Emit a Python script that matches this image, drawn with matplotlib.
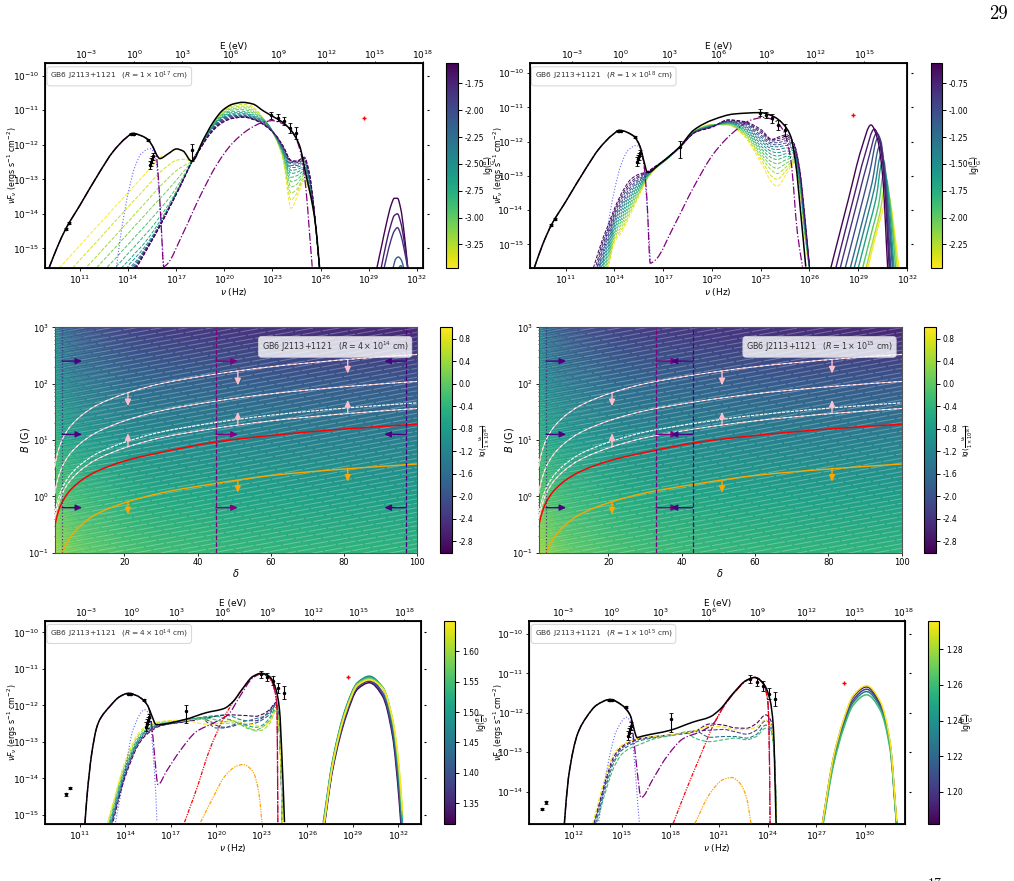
import matplotlib
matplotlib.use("Agg")
import matplotlib.pyplot as plt
import numpy as np
from matplotlib.cm import ScalarMappable
from matplotlib.collections import LineCollection
from matplotlib.colors import Normalize
from matplotlib.patches import PathPatch
from matplotlib.path import Path
from matplotlib.ticker import NullLocator

W, H = 1014, 881
HZ_PER_EV = 2.418e14

# observed SED, log10 values
nu_obs = [10.11, 10.33, 14.2, 14.3, 14.4, 15.24, 15.36, 15.42, 15.48, 15.55, 18.01, 22.93, 23.34, 23.7, 24.09, 24.48]
flux_obs = [-14.44, -14.27, -11.68, -11.68, -11.68, -11.85, -12.58, -12.5, -12.42, -12.33, -12.16, -11.15, -11.22, -11.32, -11.52, -11.65]
err_lo = [.03, .03, .02, .02, .02, .03, .12, .12, .1, .1, .32, .1, .1, .12, .14, .17]
err_hi = [.03, .03, .02, .02, .02, .03, .12, .12, .1, .1, .17, .1, .1, .12, .14, .17]
nu_icecube = [28.7]
flux_icecube = [-11.23]

# accretion disk, shared by the upper panels
disk_x = [13.28, 13.59, 14.0, 14.42, 14.84, 15.36, 15.6, 15.77, 15.93, 16.08, 16.22]
disk_y = [-15.53, -14.47, -13.41, -12.65, -12.25, -12.11, -12.21, -12.54, -13.41, -14.47, -15.53]

# panel: R = 1e17 cm
p1_total_x = [9.07, 9.6, 10.11, 11, 12.24, 13.06, 13.9, 14.3, 14.84, 15.24, 15.56, 15.77, 15.98, 16.5, 17.02, 17.43, 17.95, 18.0, 18.67, 19.3, 19.92, 20.54, 21.16, 21.79, 22.41, 23.03, 23.65, 24.17, 24.69, 25.1, 25.52, 25.73, 25.94]
p1_total_y = [-15.57, -14.95, -14.44, -13.75, -12.78, -12.2, -11.79, -11.67, -11.74, -11.85, -12.07, -12.28, -12.4, -12.26, -12.12, -12.18, -12.47, -12.47, -11.87, -11.35, -10.99, -10.82, -10.77, -10.82, -11.01, -11.18, -11.35, -11.59, -12.02, -12.88, -13.8, -14.47, -15.55]
p1_ext_x = [9.07, 9.6, 10.11, 11, 12.24, 13.06, 13.9, 14.3, 14.84, 15.24, 15.56, 15.77, 15.93, 16.08, 16.22, 16.39, 17.43, 18.47, 19.5, 20.5, 21.6, 22.4, 23, 23.6, 24.26, 24.8, 25.1, 25.3, 25.48]
p1_ext_y = [-15.57, -14.95, -14.44, -13.75, -12.78, -12.2, -11.79, -11.67, -11.74, -11.85, -12.07, -12.36, -13.22, -14.47, -15.53, -15.48, -14.56, -13.51, -12.6, -11.96, -11.53, -11.35, -11.3, -11.38, -11.63, -12.3, -13.32, -14.47, -15.53]
p1_lgB = [-3.47, -3.33, -3.20, -3.06, -2.93, -2.79, -2.65, -2.52, -2.38, -2.24, -2.11, -1.97, -1.83, -1.70, -1.56]
p1_low_x = [9.7, 10.5, 11.4, 12, 12.7, 13.2, 13.6, 14, 14.5, 15, 15.5, 16, 16.5, 17, 17.5, 18]
# one row per frequency, one column per curve
p1_low_y = [
    [-15.57, -16, -16, -16, -16, -16, -16, -16, -16, -16, -16, -16, -16, -16, -16],
    [-15.17, -15.59, -16, -16, -16, -16, -16, -16, -16, -16, -16, -16, -16, -16, -16],
    [-14.71, -15.13, -15.55, -16, -16, -16, -16, -16, -16, -16, -16, -16, -16, -16, -16],
    [-14.40, -14.83, -15.25, -15.59, -16, -16, -16, -16, -16, -16, -16, -16, -16, -16, -16],
    [-14.05, -14.47, -14.89, -15.23, -15.55, -16, -16, -16, -16, -16, -16, -16, -16, -16, -16],
    [-13.79, -14.21, -14.64, -14.98, -15.30, -15.56, -16, -16, -16, -16, -16, -16, -16, -16, -16],
    [-13.59, -14.01, -14.43, -14.77, -15.09, -15.36, -15.57, -16, -16, -16, -16, -16, -16, -16, -16],
    [-13.39, -13.80, -14.23, -14.57, -14.89, -15.15, -15.37, -15.52, -15.62, -15.67, -15.72, -15.75, -15.78, -15.80, -15.83],
    [-13.13, -13.55, -13.97, -14.31, -14.63, -14.90, -15.11, -15.25, -15.37, -15.42, -15.47, -15.50, -15.52, -15.55, -15.57],
    [-12.88, -13.30, -13.72, -14.06, -14.38, -14.64, -14.86, -14.98, -15.05, -15.08, -15.10, -15.12, -15.14, -15.16, -15.18],
    [-12.62, -13.04, -13.46, -13.80, -14.12, -14.38, -14.55, -14.65, -14.70, -14.72, -14.73, -14.74, -14.75, -14.76, -14.77],
    [-12.36, -12.79, -13.20, -13.55, -13.85, -14.07, -14.20, -14.27, -14.29, -14.30, -14.31, -14.32, -14.33, -14.34, -14.35],
    [-12.27, -12.60, -12.97, -13.30, -13.58, -13.75, -13.82, -13.85, -13.86, -13.87, -13.88, -13.88, -13.89, -13.89, -13.90],
    [-12.13, -12.45, -12.75, -13.03, -13.25, -13.35, -13.40, -13.41, -13.42, -13.42, -13.43, -13.43, -13.43, -13.44, -13.44],
    [-12.20, -12.42, -12.60, -12.75, -12.87, -12.93, -12.95, -12.95, -12.95, -12.95, -12.96, -12.96, -12.96, -12.96, -12.96],
    [-12.47, -12.47, -12.47, -12.47, -12.47, -12.47, -12.47, -12.47, -12.47, -12.47, -12.47, -12.47, -12.47, -12.47, -12.47],
]
p1_high_x = [18.5, 19, 19.5, 20, 20.5, 21.2, 22, 22.6, 23.2, 23.65, 24.17, 24.5, 25.0, 25.3, 25.6, 25.94]
# one row per curve
p1_high_y = [
    [-12.02, -11.60, -11.22, -10.97, -10.83, -10.78, -10.98, -11.38, -11.82, -12.40, -13.84, -13.55, -13.05, -13.35, -14.05, -15.60],
    [-12.03, -11.61, -11.24, -11.00, -10.87, -10.83, -11.01, -11.36, -11.81, -12.36, -13.60, -13.42, -13.00, -13.31, -14.03, -15.60],
    [-12.04, -11.62, -11.26, -11.03, -10.91, -10.88, -11.05, -11.34, -11.80, -12.32, -13.40, -13.30, -12.95, -13.27, -14.02, -15.60],
    [-12.05, -11.63, -11.28, -11.06, -10.95, -10.93, -11.09, -11.33, -11.79, -12.28, -13.22, -13.15, -12.88, -13.23, -14.00, -15.60],
    [-12.06, -11.64, -11.30, -11.09, -10.99, -10.98, -11.13, -11.33, -11.78, -12.25, -13.07, -13.02, -12.82, -13.19, -13.98, -15.60],
    [-12.07, -11.66, -11.32, -11.12, -11.03, -11.03, -11.17, -11.34, -11.77, -12.22, -12.94, -12.90, -12.76, -13.15, -13.96, -15.60],
    [-12.08, -11.67, -11.34, -11.15, -11.07, -11.07, -11.20, -11.35, -11.76, -12.19, -12.83, -12.80, -12.70, -13.11, -13.95, -15.60],
    [-12.08, -11.68, -11.36, -11.18, -11.10, -11.10, -11.22, -11.37, -11.75, -12.16, -12.74, -12.72, -12.64, -13.07, -13.93, -15.60],
    [-12.09, -11.69, -11.38, -11.20, -11.13, -11.13, -11.24, -11.39, -11.74, -12.14, -12.66, -12.65, -12.58, -13.03, -13.92, -15.60],
    [-12.09, -11.70, -11.40, -11.22, -11.15, -11.15, -11.26, -11.41, -11.73, -12.11, -12.60, -12.60, -12.53, -12.99, -13.90, -15.60],
    [-12.10, -11.71, -11.42, -11.24, -11.17, -11.17, -11.27, -11.43, -11.73, -12.09, -12.55, -12.56, -12.49, -12.95, -13.89, -15.60],
    [-12.10, -11.72, -11.44, -11.26, -11.19, -11.18, -11.28, -11.44, -11.72, -12.07, -12.51, -12.52, -12.45, -12.91, -13.88, -15.60],
    [-12.11, -11.74, -11.46, -11.29, -11.21, -11.19, -11.29, -11.45, -11.72, -12.05, -12.48, -12.50, -12.42, -12.87, -13.87, -15.60],
    [-12.11, -11.75, -11.48, -11.31, -11.23, -11.20, -11.30, -11.46, -11.72, -12.03, -12.46, -12.48, -12.39, -12.83, -13.86, -15.60],
    [-12.12, -11.76, -11.50, -11.33, -11.24, -11.20, -11.30, -11.47, -11.72, -12.02, -12.45, -12.47, -12.36, -12.80, -13.85, -15.60],
]
p1_gamma_lgB = [-1.56, -1.70, -1.83, -2.11, -2.38]
p1_gamma_x = [
    [29.5, 29.8, 30.1, 30.4, 30.6, 30.8, 31.0, 31.2, 31.45],
    [29.77, 30.1, 30.4, 30.6, 30.8, 31.0, 31.2, 31.45],
    [29.95, 30.1, 30.4, 30.6, 30.8, 31.0, 31.2, 31.45],
    [30.5, 30.7, 30.85, 31.05, 31.2],
    [30.85, 31.0, 31.15],
]
p1_gamma_y = [
    [-15.6, -14.95, -14.3, -13.75, -13.55, -13.55, -13.85, -14.5, -15.6],
    [-15.6, -14.85, -14.3, -14.05, -14.0, -14.25, -14.75, -15.6],
    [-15.6, -15.3, -14.75, -14.5, -14.4, -14.6, -15.0, -15.6],
    [-15.6, -15.3, -15.25, -15.35, -15.6],
    [-15.6, -15.5, -15.6],
]

# panel: R = 1e18 cm
p2_total_x = [9.06, 9.6, 10.11, 11, 12.24, 13.06, 13.9, 14.3, 15.17, 15.58, 15.79, 16.04, 16.82, 18.01, 18.88, 20.11, 21.35, 22.99, 23.81, 24.43, 24.85, 25.15, 25.46, 25.77]
p2_total_y = [-15.69, -14.98, -14.44, -13.75, -12.78, -12.2, -11.79, -11.67, -11.83, -12.15, -12.53, -12.9, -12.63, -12.15, -11.66, -11.35, -11.19, -11.15, -11.27, -11.51, -11.85, -12.63, -14.09, -15.65]
p2_ext_x = [9.06, 9.6, 10.11, 11, 12.24, 13.06, 13.9, 14.3, 15.17, 15.58, 15.83, 16, 16.2, 16.51, 17.64, 18.88, 20.11, 21.35, 22.38, 23.2, 23.81, 24.43, 24.85, 25.26, 25.57]
p2_ext_y = [-15.69, -14.98, -14.44, -13.75, -12.78, -12.2, -11.79, -11.67, -11.83, -12.15, -12.73, -13.7, -15.55, -15.46, -14.48, -13.32, -12.34, -11.71, -11.37, -11.29, -11.37, -11.71, -12.53, -14.68, -15.65]
p2_lgB = [-2.47, -2.33, -2.2, -2.06, -1.93, -1.79, -1.65, -1.52, -1.38, -1.24, -1.11, -.97, -.83, -.7, -.56]
p2_fan_x = [12.7, 13.3, 13.6, 14, 14.5, 15, 15.5, 16, 16.5, 17, 18, 19, 20, 21, 22, 23, 23.7, 24, 24.6, 25.05, 25.4, 25.7, 26.05]
# one row per frequency, one column per curve
p2_fan_y = [
    [-17.5, -17.3, -17.2, -17.1, -17, -16.9, -16.8, -16.7, -16.6, -16.5, -16.4, -16.2, -16.1, -15.9, -15.69],
    [-16.2, -16.1, -16.0, -15.9, -15.8, -15.7, -15.6, -15.5, -15.4, -15.3, -15.2, -15.1, -15.0, -14.9, -14.8],
    [-15.7, -15.62, -15.53, -15.44, -15.35, -15.26, -15.17, -15.08, -15, -14.91, -14.82, -14.73, -14.64, -14.55, -14.45],
    [-14.95, -14.88, -14.81, -14.74, -14.67, -14.6, -14.53, -14.46, -14.39, -14.32, -14.25, -14.18, -14.11, -14.03, -13.95],
    [-14.6, -14.52, -14.44, -14.35, -14.27, -14.19, -14.11, -14.03, -13.94, -13.86, -13.78, -13.7, -13.61, -13.53, -13.45],
    [-14.1, -14.03, -13.96, -13.89, -13.82, -13.75, -13.67, -13.6, -13.53, -13.46, -13.39, -13.32, -13.25, -13.18, -13.1],
    [-13.6, -13.55, -13.51, -13.46, -13.41, -13.37, -13.32, -13.28, -13.23, -13.18, -13.14, -13.09, -13.04, -13, -12.95],
    [-13.1, -13.08, -13.07, -13.05, -13.04, -13.02, -13, -12.99, -12.97, -12.96, -12.94, -12.93, -12.91, -12.89, -12.88],
    [-12.8, -12.79, -12.79, -12.78, -12.78, -12.77, -12.77, -12.76, -12.76, -12.75, -12.75, -12.74, -12.74, -12.73, -12.72],
    [-12.6, -12.6, -12.6, -12.6, -12.59, -12.59, -12.59, -12.59, -12.58, -12.58, -12.58, -12.58, -12.57, -12.57, -12.57],
    [-12.18, -12.18, -12.18, -12.18, -12.17, -12.17, -12.17, -12.17, -12.17, -12.17, -12.16, -12.16, -12.16, -12.16, -12.16],
    [-11.66, -11.66, -11.67, -11.67, -11.68, -11.68, -11.69, -11.69, -11.7, -11.7, -11.7, -11.71, -11.71, -11.72, -11.72],
    [-11.5, -11.5, -11.51, -11.51, -11.52, -11.52, -11.53, -11.54, -11.54, -11.55, -11.55, -11.56, -11.56, -11.57, -11.58],
    [-11.52, -11.51, -11.5, -11.49, -11.47, -11.46, -11.45, -11.44, -11.43, -11.42, -11.41, -11.4, -11.39, -11.37, -11.36],
    [-11.85, -11.82, -11.78, -11.75, -11.71, -11.68, -11.64, -11.61, -11.57, -11.54, -11.5, -11.47, -11.45, -11.43, -11.41],
    [-12.6, -12.5, -12.42, -12.34, -12.26, -12.19, -12.12, -12.05, -11.98, -11.92, -11.86, -11.8, -11.74, -11.69, -11.64],
    [-13.2, -13.02, -12.85, -12.72, -12.6, -12.48, -12.38, -12.29, -12.21, -12.14, -12.08, -12.03, -11.98, -11.95, -11.93],
    [-13.3, -13.1, -12.93, -12.78, -12.64, -12.52, -12.42, -12.32, -12.23, -12.15, -12.09, -12.03, -11.97, -11.92, -11.88],
    [-12.92, -12.82, -12.72, -12.62, -12.52, -12.43, -12.35, -12.27, -12.18, -12.11, -12.04, -11.97, -11.91, -11.85, -11.8],
    [-12.63, -12.6, -12.56, -12.52, -12.47, -12.43, -12.39, -12.35, -12.3, -12.26, -12.22, -12.18, -12.14, -12.09, -12.05],
    [-13.4, -13.36, -13.31, -13.27, -13.22, -13.17, -13.13, -13.08, -13.04, -13, -12.96, -12.92, -12.88, -12.84, -12.8],
    [-14.75, -14.7, -14.66, -14.61, -14.56, -14.52, -14.47, -14.43, -14.38, -14.34, -14.29, -14.24, -14.2, -14.15, -14.1],
    [-15.9, -15.9, -15.9, -15.9, -15.9, -15.9, -15.9, -15.9, -15.9, -15.9, -15.9, -15.9, -15.9, -15.9, -15.9],
]
p2_gamma_lgB = [-2.47, -2.25, -1.95, -1.65, -1.4, -1.2, -1.0, -.85, -.7, -.56]
p2_gamma_x = [
    [29.59, 30.1, 30.45, 30.81, 31, 31.25, 31.5],
    [29.48, 30, 30.35, 30.65, 30.85, 31.1, 31.4],
    [29.27, 29.9, 30.25, 30.57, 30.75, 31, 31.3],
    [29.0, 29.7, 30.1, 30.46, 30.65, 30.9, 31.2],
    [28.75, 29.6, 30, 30.4, 30.6, 30.8, 31.15],
    [28.51, 29.4, 29.85, 30.3, 30.5, 30.75, 31.1],
    [28.2, 29.2, 29.7, 30.2, 30.45, 30.7, 31.0],
    [27.89, 29, 29.6, 30.14, 30.4, 30.65, 30.95],
    [27.62, 28.7, 29.4, 29.99, 30.3, 30.6, 30.9],
    [27.31, 28.4, 29.2, 29.78, 30.2, 30.5, 30.81],
]
p2_gamma_y = [
    [-15.69, -14.7, -14.1, -13.56, -13.85, -14.7, -15.69],
    [-15.69, -14.7, -14.05, -13.29, -13.45, -14.3, -15.69],
    [-15.69, -14.5, -13.85, -12.92, -13.1, -14, -15.69],
    [-15.69, -14.4, -13.65, -12.63, -12.85, -13.8, -15.69],
    [-15.69, -14.12, -13.35, -12.39, -12.6, -13.6, -15.69],
    [-15.69, -14.05, -13.2, -12.15, -12.45, -13.5, -15.69],
    [-15.69, -13.84, -12.9, -11.9, -12.2, -13.35, -15.69],
    [-15.69, -13.64, -12.55, -11.75, -12.0, -13.2, -15.69],
    [-15.69, -13.67, -12.4, -11.63, -11.95, -13.1, -15.69],
    [-15.69, -13.67, -12.2, -11.51, -11.95, -13.0, -15.69],
]

# delta-B plane, shared by the two middle panels
delta_grid = [1, 2, 3, 6, 10, 20, 30, 50, 70, 100]
lg_b_grid = [-1, 0, 1, 2, 3]
lg_nu_field = [
    [.45, .35, .25, .1, -.02, -.15, -.25, -.33, -.38, -.42],
    [.05, -.05, -.12, -.25, -.35, -.5, -.58, -.66, -.72, -.78],
    [-.35, -.5, -.6, -.75, -.85, -1.0, -1.08, -1.15, -1.22, -1.28],
    [-.75, -1.0, -1.12, -1.3, -1.42, -1.58, -1.68, -1.78, -1.86, -1.92],
    [-1.1, -1.45, -1.6, -1.85, -2.0, -2.2, -2.3, -2.42, -2.5, -2.58],
]
delta_curve = [1, 1.5, 2, 3, 5, 8, 12, 21, 30, 45, 60, 81, 100]
lim_a = [.52, .70, .82, 1.0, 1.22, 1.42, 1.60, 1.84, 2.0, 2.17, 2.30, 2.43, 2.52]
lim_b = [.04, .22, .34, .52, .74, .94, 1.12, 1.36, 1.52, 1.69, 1.82, 1.95, 2.04]
lim_c = [-.34, -.16, -.04, .14, .36, .56, .74, .98, 1.14, 1.31, 1.44, 1.57, 1.66]
lim_d = [-.44, -.26, -.14, .04, .26, .46, .64, .88, 1.04, 1.21, 1.34, 1.47, 1.56]
lim_red = [-.54, -.38, -.27, -.11, .09, .27, .43, .645, .78, .965, 1.08, 1.2, 1.28]
delta_orange = [3, 5, 8, 12, 21, 30, 45, 60, 81, 100]
lim_orange = [-1.0, -.75, -.52, -.33, -.095, .06, .23, .37, .49, .574]
b_arrow_levels = [251, 12.6, 0.63]
pink_down = [(21, 1.84, 1.60), (51, 2.23, 1.97), (81, 2.42, 2.18)]
pink_up = [(21, .88, 1.12), (51, 1.27, 1.50), (81, 1.47, 1.71)]
orange_down = [(21, -.095, -.32), (51, .29, .065), (81, .50, .26)]

# panel: R = 4e14 cm
p5_total_x = [11.33, 11.48, 11.77, 12.1, 12.3, 12.97, 13.63, 14.18, 14.73, 15.17, 15.5, 15.72, 16.04, 17.9, 19.33, 20.54, 21.09, 21.75, 22.4, 22.95, 23.5, 23.94, 24.16, 24.33, 24.49]
p5_total_y = [-15.25, -14.44, -13.35, -12.62, -12.4, -12.03, -11.76, -11.67, -11.73, -11.85, -12.03, -12.26, -12.53, -12.39, -12.2, -12.08, -11.9, -11.53, -11.21, -11.12, -11.21, -11.58, -12.12, -13.49, -15.2]
p5_ext_x = [11.33, 11.48, 11.77, 12.1, 12.3, 12.97, 13.63, 14.18, 14.73, 15.17, 15.5, 15.72, 15.93, 16.15, 16.7, 17.58, 18.68, 19.77, 20.76, 21.54, 22.4, 22.95, 23.5, 23.83, 24.0, 24.05]
p5_ext_y = [-15.25, -14.44, -13.35, -12.62, -12.4, -12.03, -11.76, -11.67, -11.73, -11.85, -12.03, -12.48, -13.4, -14.17, -13.81, -13.26, -12.72, -12.49, -12.26, -11.76, -11.25, -11.14, -11.25, -11.57, -12.12, -15.2]
p5_red_x = [17.9, 18.68, 19.55, 20.43, 21.07, 21.75, 22.4, 22.95, 23.5, 23.83, 24.0, 24.05]
p5_red_y = [-15.2, -14.31, -13.22, -12.39, -11.93, -11.53, -11.21, -11.14, -11.25, -11.57, -12.12, -15.2]
p5_orange_x = [18.96, 19.77, 20.54, 21.3, 21.75, 22.4, 22.8, 23]
p5_orange_y = [-15.2, -14.53, -13.95, -13.67, -13.62, -13.81, -14.39, -15.2]
p5_disk_x = [13.35, 13.96, 14.5, 15.28, 15.6, 15.82, 16.0, 16.08]
p5_disk_y = [-15.2, -13.85, -12.67, -12.12, -12.3, -13.3, -14.4, -15.2]
p5_lgB = [1.32, 1.37, 1.41, 1.46, 1.51, 1.55, 1.60, 1.65]
p5_fan_x = [12.8, 13.3, 13.8, 14.3, 14.8, 15.2, 15.7, 16.2, 17, 18, 19, 19.5, 20, 20.5, 21, 21.5, 22, 22.6, 23, 23.5, 23.95, 24.2, 24.35]
p5_fan_y = [
    [-15.8, -15, -14.2, -13.6, -13.12, -12.88, -12.7, -12.58, -12.5, -12.45, -12.37, -12.33, -12.3, -12.27, -12.26, -12.27, -12.28, -12.3, -12.25, -12.12, -11.92, -13, -15.25],
    [-15.7, -14.92, -14.15, -13.55, -13.08, -12.85, -12.67, -12.56, -12.5, -12.44, -12.36, -12.42, -12.55, -12.6, -12.58, -12.5, -12.42, -12.42, -12.35, -12.15, -11.95, -13, -15.25],
    [-15.65, -14.87, -14.1, -13.5, -13.04, -12.82, -12.65, -12.55, -12.48, -12.42, -12.34, -12.5, -12.62, -12.62, -12.55, -12.5, -12.52, -12.48, -12.4, -12.25, -11.98, -13, -15.25],
    [-15.55, -14.8, -14.03, -13.45, -13, -12.78, -12.62, -12.53, -12.47, -12.4, -12.33, -12.3, -12.28, -12.26, -12.3, -12.38, -12.42, -12.36, -12.32, -12.2, -11.98, -13, -15.25],
    [-15.5, -14.72, -13.97, -13.4, -12.97, -12.75, -12.6, -12.52, -12.46, -12.4, -12.35, -12.32, -12.3, -12.36, -12.4, -12.5, -12.55, -12.6, -12.55, -12.35, -12.05, -13, -15.25],
    [-15.4, -14.65, -13.9, -13.35, -12.92, -12.72, -12.58, -12.5, -12.45, -12.4, -12.36, -12.36, -12.4, -12.45, -12.42, -12.5, -12.62, -12.68, -12.6, -12.42, -12.1, -13, -15.25],
    [-15.3, -14.55, -13.82, -13.27, -12.86, -12.67, -12.54, -12.47, -12.42, -12.4, -12.38, -12.42, -12.5, -12.5, -12.48, -12.52, -12.58, -12.7, -12.68, -12.5, -12.15, -13, -15.25],
    [-15.25, -14.5, -13.75, -13.2, -12.8, -12.62, -12.5, -12.45, -12.42, -12.42, -12.5, -12.52, -12.5, -12.45, -12.42, -12.45, -12.5, -12.54, -12.6, -12.45, -12.12, -13, -15.25],
]
p5_gamma_x = [27.05, 27.67, 28.55, 29.32, 30.08, 30.96, 31.62, 32.05, 32.27]
p5_gamma_y = [
    [-15.5, -13.75, -12.3, -11.55, -11.38, -11.75, -12.85, -14.6, -15.9],
    [-15.45, -13.7, -12.25, -11.5, -11.34, -11.7, -12.75, -14.4, -15.7],
    [-15.4, -13.65, -12.2, -11.45, -11.3, -11.65, -12.68, -14.3, -15.6],
    [-15.2, -13.5, -12.05, -11.37, -11.2, -11.52, -12.5, -14.1, -15.4],
    [-15.25, -13.52, -12.07, -11.38, -11.23, -11.5, -12.45, -13.95, -15.2],
    [-15.3, -13.56, -12.1, -11.4, -11.25, -11.5, -12.42, -13.85, -15.1],
    [-15.35, -13.6, -12.13, -11.42, -11.28, -11.52, -12.4, -13.8, -15.0],
    [-15.4, -13.62, -12.15, -11.45, -11.3, -11.53, -12.38, -13.7, -14.9],
]

# panel: R = 1e15 cm
p6_total_x = [11.46, 11.71, 12.29, 12.84, 13.46, 14.28, 15, 15.51, 15.97, 16.03, 18, 19.42, 20.45, 21.06, 21.88, 22.7, 23.22, 23.73, 24.15, 24.35, 24.52]
p6_total_y = [-14.82, -13.66, -12.52, -12.1, -11.8, -11.66, -11.8, -12.05, -12.63, -12.62, -12.44, -12.23, -12.1, -11.91, -11.5, -11.17, -11.1, -11.25, -11.68, -12.35, -14.8]
p6_ext_x = [11.46, 11.71, 12.29, 12.84, 13.46, 14.28, 15, 15.51, 15.72, 15.97, 16.19, 16.95, 17.78, 18.8, 19.83, 20.65, 21.27, 22.09, 22.7, 23.22, 23.73, 24.0, 24.08, 24.15]
p6_ext_y = [-14.82, -13.66, -12.52, -12.1, -11.8, -11.66, -11.8, -12.05, -12.6, -13.54, -14.15, -13.66, -13.11, -12.65, -12.48, -12.27, -11.85, -11.42, -11.18, -11.1, -11.27, -11.68, -12.35, -14.8]
p6_red_x = [18.18, 19.01, 19.83, 20.65, 21.47, 22.09, 22.7, 23.22, 23.73, 24.0, 24.08, 24.15]
p6_red_y = [-14.8, -13.92, -13.11, -12.31, -11.72, -11.42, -11.18, -11.1, -11.27, -11.68, -12.35, -14.8]
p6_orange_x = [19.52, 20.45, 21.27, 21.78, 22.3, 22.71, 22.97]
p6_orange_y = [-14.8, -14.04, -13.69, -13.64, -13.79, -14.17, -14.8]
p6_disk_x = [13.56, 14.08, 14.69, 15.31, 15.56, 15.78, 15.97, 16.09]
p6_disk_y = [-14.82, -13.45, -12.44, -12.11, -12.26, -13.2, -14.21, -14.8]
p6_lgB = [1.185, 1.205, 1.225, 1.26, 1.295]
p6_fan_x = [13.2, 13.6, 14, 14.5, 15, 15.5, 16, 17, 18, 19, 19.5, 20.45, 21.27, 22, 22.7, 23.3, 23.88, 24.2, 24.42, 24.55]
p6_fan_y = [
    [-14.95, -14.32, -13.72, -13.12, -12.86, -12.74, -12.66, -12.6, -12.56, -12.52, -12.47, -12.28, -12.31, -12.38, -12.39, -12.27, -12.05, -12.2, -13.1, -14.9],
    [-14.98, -14.38, -13.8, -13.2, -12.9, -12.77, -12.68, -12.61, -12.57, -12.5, -12.46, -12.44, -12.42, -12.48, -12.54, -12.44, -12.2, -12.3, -13.1, -14.9],
    [-15.1, -14.48, -13.9, -13.28, -12.95, -12.82, -12.72, -12.63, -12.57, -12.48, -12.46, -12.62, -12.6, -12.6, -12.64, -12.55, -12.31, -12.4, -13.1, -14.9],
    [-15.2, -14.58, -14, -13.4, -13.05, -12.9, -12.82, -12.66, -12.58, -12.5, -12.64, -12.73, -12.68, -12.64, -12.68, -12.6, -12.39, -12.45, -13.1, -14.9],
    [-14.82, -14.2, -13.62, -13.05, -12.82, -12.72, -12.65, -12.6, -12.56, -12.5, -12.46, -12.33, -12.36, -12.43, -12.42, -12.36, -12.18, -12.3, -13.1, -14.9],
]
p6_gamma_x = [27.37, 28.05, 28.66, 29.28, 30.1, 30.93, 31.55, 31.96]
p6_gamma_y = [
    [-14.82, -13.16, -12.23, -11.59, -11.34, -11.75, -12.78, -14.82],
    [-14.85, -13.22, -12.3, -11.67, -11.4, -11.8, -12.82, -14.85],
    [-14.9, -13.28, -12.36, -11.73, -11.46, -11.85, -12.87, -14.87],
    [-14.95, -13.34, -12.42, -11.8, -11.54, -11.92, -12.93, -14.9],
    [-14.82, -13.14, -12.2, -11.56, -11.31, -11.7, -12.72, -14.75],
]

LABEL_SED = r'$\nu F_{\nu}$ (ergs s$^{-1}$ cm$^{-2}$)'
LABEL_B = r'$\lg(\frac{B}{\mathrm{G}})$'
LABEL_NU = r'$\lg(\frac{\nu_b}{1\times10^{16}})$'
SOURCE = 'GB6 J2113+1121   ($R=%s$ cm)'

fig = plt.figure(figsize=(W / 100, H / 100), dpi=100)


def box(left, top, right, bottom):
    return [left / W, 1 - bottom / H, (right - left) / W, (bottom - top) / H]


def bezier_vertices(x, y):
    # cubic segments through the given points, slopes kept monotone so peaks do not overshoot
    x = np.asarray(x, dtype=float)
    y = np.asarray(y, dtype=float)
    h = np.diff(x)
    d = np.diff(y) / h
    m = np.zeros_like(x)
    m[0], m[-1] = d[0], d[-1]
    for i in range(1, len(x) - 1):
        if d[i - 1] * d[i] > 0:
            w1 = 2 * h[i] + h[i - 1]
            w2 = h[i] + 2 * h[i - 1]
            m[i] = (w1 + w2) / (w1 / d[i - 1] + w2 / d[i])
    verts = [(x[0], y[0])]
    for i in range(len(h)):
        verts.append((x[i] + h[i] / 3, y[i] + m[i] * h[i] / 3))
        verts.append((x[i + 1] - h[i] / 3, y[i + 1] - m[i + 1] * h[i] / 3))
        verts.append((x[i + 1], y[i + 1]))
    return np.array(verts)


def curve(ax, x, y, log_x=True, color='k', ls='-', lw=1.0, alpha=None, zorder=2):
    verts = bezier_vertices(x, y)
    if log_x:
        verts[:, 0] = 10.0 ** verts[:, 0]
    verts[:, 1] = 10.0 ** verts[:, 1]
    codes = [Path.MOVETO] + [Path.CURVE4] * (len(verts) - 1)
    ax.add_patch(PathPatch(Path(verts, codes), fc='none', ec=color, ls=ls, lw=lw, alpha=alpha,
                           zorder=zorder, joinstyle='round'))


def make_cbar(rect, cmap, vmin, vmax, ticks, fmt, label, label_px, size=5.6):
    cax = fig.add_axes(box(*rect))
    sm = ScalarMappable(norm=Normalize(vmin, vmax), cmap=cmap)
    cb = fig.colorbar(sm, cax=cax, ticks=ticks, format=fmt)
    cb.ax.tick_params(labelsize=5.5, length=3, width=.7, pad=2)
    cb.set_label(label, fontsize=size)
    cax.yaxis.set_label_coords((label_px - rect[0]) / (rect[2] - rect[0]), .5)
    return sm


def sed_axes(rect, xlim, ylim, xticks, yticks, label_px):
    ax = fig.add_axes(box(*rect))
    ax.set_xscale('log')
    ax.set_yscale('log')
    ax.set_xlim(10.0 ** xlim[0], 10.0 ** xlim[1])
    ax.set_ylim(10.0 ** ylim[0], 10.0 ** ylim[1])
    ax.set_xticks(10.0 ** np.array(xticks))
    ax.set_yticks(10.0 ** np.array(yticks))
    ax.xaxis.set_minor_locator(NullLocator())
    ax.yaxis.set_minor_locator(NullLocator())
    ax.tick_params(labelsize=6.5, length=2, width=.6, pad=2)
    ax.set_xlabel(r'$\nu$ (Hz)', fontsize=6.5, labelpad=0)
    ax.set_ylabel(LABEL_SED, fontsize=5.7)
    ax.yaxis.set_label_coords((label_px - rect[0]) / (rect[2] - rect[0]), .5)
    for s in ax.spines.values():
        s.set_linewidth(1.3)
    top = ax.twiny()
    top.set_xscale('log')
    top.set_xlim(10.0 ** xlim[0] / HZ_PER_EV, 10.0 ** xlim[1] / HZ_PER_EV)
    top.set_xticks([10.0 ** e for e in range(-3, 19, 3) if 10.0 ** e <= 10.0 ** xlim[1] / HZ_PER_EV])
    top.xaxis.set_minor_locator(NullLocator())
    top.tick_params(labelsize=6.5, length=1.5, width=.6, pad=0)
    top.set_xlabel('E (eV)', fontsize=6.5, labelpad=0)
    # short detached marks just off the right spine
    ax.plot([1.012] * len(yticks), 10.0 ** np.array(yticks), transform=ax.get_yaxis_transform(),
            ls='none', marker='_', ms=2, mew=.8, color='k', clip_on=False)
    ax.errorbar(10.0 ** np.array(nu_obs), 10.0 ** np.array(flux_obs),
                yerr=[10.0 ** np.array(flux_obs) - 10.0 ** (np.array(flux_obs) - np.array(err_lo)),
                      10.0 ** (np.array(flux_obs) + np.array(err_hi)) - 10.0 ** np.array(flux_obs)],
                fmt='.', ms=3, color='k', lw=.8, capsize=1.5, capthick=.6, zorder=6)
    ax.plot(10.0 ** np.array(nu_icecube), 10.0 ** np.array(flux_icecube), ls='none', marker='+', ms=3.5, mew=1, color='red')
    return ax


def source_box(ax, text, size):
    ax.text(.014, .965, text, transform=ax.transAxes, fontsize=size, va='top', ha='left', color='#333333', zorder=8,
            bbox=dict(boxstyle='round,pad=0.45', fc='white', ec='lightgray', alpha=.85, lw=.8))


def components(ax, disk, ext, total, red=None, orange=None):
    curve(ax, disk[0], disk[1], color='blue', ls=':', lw=.8, alpha=.6, zorder=3)
    if orange is not None:
        curve(ax, orange[0], orange[1], color='orange', ls=(0, (3, 1, 1, 1, 1, 1)), lw=.9, zorder=3)
    curve(ax, ext[0], ext[1], color='purple', ls='-.', lw=.9, zorder=3)
    if red is not None:
        curve(ax, red[0], red[1], color='red', ls=(0, (3, 1, 1, 1, 1, 1)), lw=.9, zorder=4)
    curve(ax, total[0], total[1], color='k', lw=1.1, zorder=5)


# R = 1e17 cm
ax1 = sed_axes((45, 63, 423, 268), (8.82, 32.39), (-15.57, -9.63), [11, 14, 17, 20, 23, 26, 29, 32], [-15, -14, -13, -12, -11, -10], 20)
sm1 = make_cbar((446, 63, 458, 268), 'viridis_r', -3.47, -1.56, [-3.25, -3, -2.75, -2.5, -2.25, -2, -1.75], '%.2f', LABEL_B, 482)
low1 = np.array(p1_low_y).T
for k, lgb in enumerate(p1_lgB):
    curve(ax1, p1_low_x + p1_high_x, list(low1[k]) + p1_high_y[k], color=sm1.to_rgba(lgb), ls='--', lw=.7)
for k, lgb in enumerate(p1_gamma_lgB):
    curve(ax1, p1_gamma_x[k], p1_gamma_y[k], color=sm1.to_rgba(lgb), lw=1)
components(ax1, (disk_x, disk_y), (p1_ext_x, p1_ext_y), (p1_total_x, p1_total_y))
source_box(ax1, SOURCE % r'1\times10^{17}', 5.4)

# R = 1e18 cm
ax2 = sed_axes((529.5, 63, 907, 268), (8.77, 32.0), (-15.69, -9.7), [11, 14, 17, 20, 23, 26, 29, 32], [-15, -14, -13, -12, -11, -10], 506)
sm2 = make_cbar((931, 63, 942, 268), 'viridis_r', -2.47, -.56, [-2.25, -2, -1.75, -1.5, -1.25, -1, -.75], '%.2f', LABEL_B, 968)
fan2 = np.array(p2_fan_y).T
for k, lgb in enumerate(p2_lgB):
    curve(ax2, p2_fan_x, fan2[k], color=sm2.to_rgba(lgb), ls='--', lw=.7)
for k, lgb in enumerate(p2_gamma_lgB):
    curve(ax2, p2_gamma_x[k], p2_gamma_y[k], color=sm2.to_rgba(lgb), lw=1)
components(ax2, (disk_x, disk_y), (p2_ext_x, p2_ext_y), (p2_total_x, p2_total_y))
source_box(ax2, SOURCE % r'1\times10^{18}', 5.4)


def add_stripes(ax, width_px, height_px):
    # the filled contours leave thin pale seams across the field, finer towards low delta
    tilt = np.tan(np.radians(10)) * width_px / height_px
    layers = [(4.5, 20.0, lambda x: .28 * min(1, .3 + x / .18)), (2.4, 7.0, lambda x: .16 * max(0, 1 - x / .22))]
    for step, dash_px, strength in layers:
        dx = dash_px / width_px
        segs, colors = [], []
        starts = np.arange(-tilt, 1, step / height_px)
        for i, y0 in enumerate(starts):
            xa = -dx * ((i * .37) % 1)
            while xa < 1:
                xb = xa + dx * .9
                a = strength(max(xa, 0))
                if a > 0:
                    segs.append([(xa, y0 + tilt * xa), (xb, y0 + tilt * xb)])
                    colors.append((1, 1, 1, a))
                xa += dx
        lc = LineCollection(segs, transform=ax.transAxes, colors=colors, linewidths=.75, zorder=1.5)
        ax.add_collection(lc, autolim=False)
        lc.set_clip_path(ax.patch)


def plane_axes(rect, cbar_rect, vlines, arrows, text, label_px, cbar_label_px):
    ax = fig.add_axes(box(*rect))
    sm = make_cbar(cbar_rect, 'viridis', -3, 1, [-2.8, -2.4, -2, -1.6, -1.2, -.8, -.4, 0, .4, .8], '%.1f', LABEL_NU, cbar_label_px, 5)
    ax.pcolormesh(delta_grid, 10.0 ** np.array(lg_b_grid), lg_nu_field, shading='gouraud',
                  cmap='viridis', norm=sm.norm, zorder=1)
    ax.set_yscale('log')
    ax.set_xlim(1, 100)
    ax.set_ylim(.1, 1000)
    ax.set_xticks([20, 40, 60, 80, 100])
    ax.tick_params(labelsize=6, length=2, width=.6, pad=2)
    ax.tick_params(which='minor', length=1, width=.4)
    ax.set_xlabel(r'$\delta$', fontsize=7, labelpad=0)
    ax.set_ylabel(r'$B$ (G)', fontsize=7)
    ax.yaxis.set_label_coords((label_px - rect[0]) / (rect[2] - rect[0]), .5)
    for s in ax.spines.values():
        s.set_color('#555555')
    add_stripes(ax, rect[2] - rect[0], rect[3] - rect[1])
    for values in (lim_a, lim_b, lim_d):
        curve(ax, delta_curve, values, log_x=False, color='pink', lw=.7, zorder=3)
        curve(ax, delta_curve, values, log_x=False, color='white', lw=.7, ls=(0, (3, 3)), zorder=3)
    curve(ax, delta_curve, lim_c, log_x=False, color='white', lw=.8, ls=(0, (3, 1)), zorder=3)
    curve(ax, delta_curve, lim_red, log_x=False, color='red', lw=1.1, zorder=3)
    curve(ax, delta_orange, lim_orange, log_x=False, color='orange', lw=1.0, zorder=3)
    for pos, style, color, alpha in vlines:
        ax.axvline(pos, color=color, ls=style, lw=.9, alpha=alpha, zorder=3)
    head = dict(arrowstyle='-|>,head_length=.55,head_width=.25', lw=1.0, mutation_scale=7, shrinkA=0, shrinkB=0)
    for d0, d1, color in arrows:
        for lev in b_arrow_levels:
            ax.annotate('', xy=(d1, lev), xytext=(d0, lev), zorder=4, arrowprops=dict(color=color, **head))
    for rows, color in [(pink_down, 'pink'), (pink_up, 'pink'), (orange_down, 'orange')]:
        for d, b0, b1 in rows:
            ax.annotate('', xy=(d, 10.0 ** b1), xytext=(d, 10.0 ** b0), zorder=4, arrowprops=dict(color=color, **head))
    ax.text(.976, .945, text, transform=ax.transAxes, fontsize=5.8, va='top', ha='right', color='#333333', zorder=8,
            bbox=dict(boxstyle='round,pad=0.4', fc='white', ec='lightgray', alpha=.8, lw=.6))
    return ax


plane_axes((54.7, 327.3, 417.3, 552.7), (440, 327.3, 451.7, 552.7),
           [(3, ':', 'indigo', .7), (45, '--', 'purple', 1), (97, '--', 'indigo', 1)],
           [(3, 8.5, 'indigo'), (45, 51, 'purple'), (97, 91, 'indigo')],
           SOURCE % r'4\times10^{14}', 32, 477)
plane_axes((538.7, 327.3, 901.7, 552.7), (924.3, 327.3, 936, 552.7),
           [(3, ':', 'indigo', .7), (33, '--', 'purple', 1), (43, '--', 'indigo', 1)],
           [(3, 8.5, 'indigo'), (33, 39, 'purple'), (43, 37, 'indigo')],
           SOURCE % r'1\times10^{15}', 516, 960)

# R = 4e14 cm
ax5 = sed_axes((45, 620.7, 420.7, 824), (8.7, 33.47), (-15.25, -9.68), [11, 14, 17, 20, 23, 26, 29, 32], [-15, -14, -13, -12, -11, -10], 20)
sm5 = make_cbar((444, 620.7, 455, 824), 'viridis', 1.316, 1.65, [1.35, 1.40, 1.45, 1.50, 1.55, 1.60], '%.2f', LABEL_B, 475)
for k, lgb in enumerate(p5_lgB):
    curve(ax5, p5_fan_x, p5_fan_y[k], color=sm5.to_rgba(lgb), ls='--', lw=.8)
    curve(ax5, p5_gamma_x, p5_gamma_y[k], color=sm5.to_rgba(lgb), lw=1.1)
components(ax5, (p5_disk_x, p5_disk_y), (p5_ext_x, p5_ext_y), (p5_total_x, p5_total_y),
           (p5_red_x, p5_red_y), (p5_orange_x, p5_orange_y))
source_box(ax5, SOURCE % r'4\times10^{14}', 5.4)

# R = 1e15 cm
ax6 = sed_axes((529.3, 620.7, 905, 824), (9.3, 32.47), (-14.82, -9.66), [12, 15, 18, 21, 24, 27, 30], [-14, -13, -12, -11, -10], 506)
sm6 = make_cbar((928.3, 620.7, 939, 824), 'viridis', 1.182, 1.296, [1.20, 1.22, 1.24, 1.26, 1.28], '%.2f', LABEL_B, 960)
for k, lgb in enumerate(p6_lgB):
    curve(ax6, p6_fan_x, p6_fan_y[k], color=sm6.to_rgba(lgb), ls='--', lw=.8)
    curve(ax6, p6_gamma_x, p6_gamma_y[k], color=sm6.to_rgba(lgb), lw=1.1)
components(ax6, (p6_disk_x, p6_disk_y), (p6_ext_x, p6_ext_y), (p6_total_x, p6_total_y),
           (p6_red_x, p6_red_y), (p6_orange_x, p6_orange_y))
source_box(ax6, SOURCE % r'1\times10^{15}', 5.4)

# page furniture
fig.text(998 / W, 1 - 14 / H, '29', family='cmr10', fontsize=13.5, ha='center', va='center')
fig.text(935 / W, 1 - 877.5 / H, '17', family='cmr10', fontsize=10, ha='center', va='top')

fig.savefig('out.png', dpi=100)
